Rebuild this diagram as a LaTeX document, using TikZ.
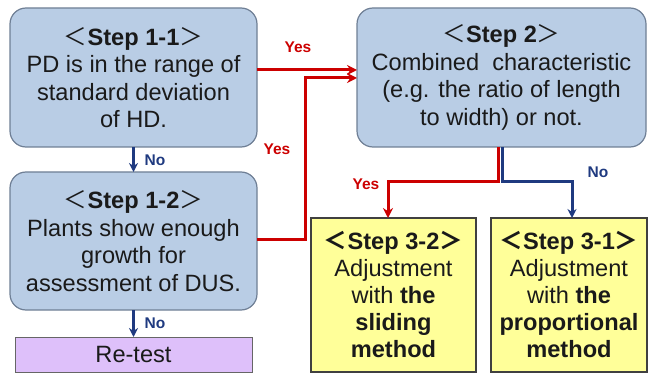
\documentclass[tikz,border=0pt]{standalone}
\usepackage{fontspec}
\setmainfont{Liberation Sans}
\newfontfamily\cjk{Noto Sans CJK JP}
\usetikzlibrary{arrows.meta}
\definecolor{boxblue}{HTML}{B9CDE5}
\definecolor{boxedge}{HTML}{6F7F95}
\definecolor{boxyellow}{HTML}{FFFF99}
\definecolor{boxlilac}{HTML}{DEC0FA}
\definecolor{yesred}{HTML}{CC0000}
\definecolor{nonavy}{HTML}{1F3A80}
\definecolor{txt}{HTML}{1A1A1A}
\newcommand\stephead[1]{{\cjk ＜}\textbf{#1}{\cjk ＞}}
\begin{document}
\begin{tikzpicture}[x=1pt,y=-1pt,
  every node/.style={inner sep=0pt, outer sep=0pt},
  bluebox/.style={draw=boxedge, line width=1.2pt, fill=boxblue, rounded corners=16pt,
    align=center, text=txt, font=\fontsize{23.6}{27.5}\selectfont},
  yellowbox/.style={draw=black!75, line width=1.2pt, fill=boxyellow,
    align=center, text=txt, font=\fontsize{23.6}{27}\selectfont,
    minimum height=154pt},
  lilacbox/.style={draw=black!60, line width=1pt, fill=boxlilac,
    align=center, text=txt, font=\fontsize{23.6}{27}\selectfont},
  yesline/.style={draw=yesred, line width=3pt, -{Stealth[length=10pt,width=10pt]}},
  noline/.style={draw=nonavy, line width=3pt, -{Stealth[length=9pt,width=9pt]}},
  yeslabel/.style={text=yesred, font=\fontsize{15.5}{15.5}\selectfont\bfseries},
  nolabel/.style={text=nonavy, font=\fontsize{15.5}{15.5}\selectfont\bfseries}
]
\useasboundingbox (0,0) rectangle (648,374);

\node[bluebox, minimum width=247pt, minimum height=139pt] (s11) at (133.5,77.5)
  {\stephead{Step 1-1}\\PD is in the range of\\standard deviation\\of HD.};
\node[bluebox, minimum width=247pt, minimum height=138pt] (s12) at (133.5,241)
  {\stephead{Step 1-2}\\Plants show enough\\growth for\\assessment of DUS.};
\node[lilacbox, minimum width=237pt, minimum height=35pt] (rt) at (133.5,354.5) {Re-test};
\node[bluebox, minimum width=289pt, minimum height=139pt] (s2) at (501.5,77.5)
  {\stephead{Step 2}\\Combined\ \ characteristic\\(e.g. the ratio of length\\to width) or not.};
\node[yellowbox, minimum width=165pt] (s32) at (393.5,295)
  {{\bfseries\stephead{Step 3-2}}\\Adjustment\\with \textbf{the}\\\textbf{sliding}\\\textbf{method}};
\node[yellowbox, minimum width=156pt] (s31) at (569,295)
  {{\bfseries\stephead{Step 3-1}}\\Adjustment\\with \textbf{the}\\\textbf{proportional}\\\textbf{method}};

% Yes arrows into Step 2
\draw[yesline] ([yshift=7.5pt]s11.east) -- ([yshift=7.5pt]s2.west);
\draw[yesline] ([yshift=1pt]s12.east) -| ++(48,0) |- ([yshift=-0.5pt]s2.west);
% No arrows on the left
\draw[noline] (s11.south) -- (s12.north);
\draw[noline] (s12.south) -- (rt.north);
% Step 2 branches
\draw[yesline] ([xshift=-3.5pt]s2.south) -- ++(0,35) -| ([xshift=-5.5pt]s32.north);
\draw[noline] ([xshift=0.5pt]s2.south) -- ++(0,35) -| ([xshift=3pt]s31.north);

% labels
\node[yeslabel] (y1) at (298,47) {Yes};
\node[yeslabel] (y2) at (277,149) {Yes};
\node[yeslabel] (y3) at (366,184) {Yes};
\node[nolabel] (n1) at (155,160) {No};
\node[nolabel] (n2) at (155,323) {No};
\node[nolabel] (n3) at (598,172) {No};
\end{tikzpicture}
\end{document}
